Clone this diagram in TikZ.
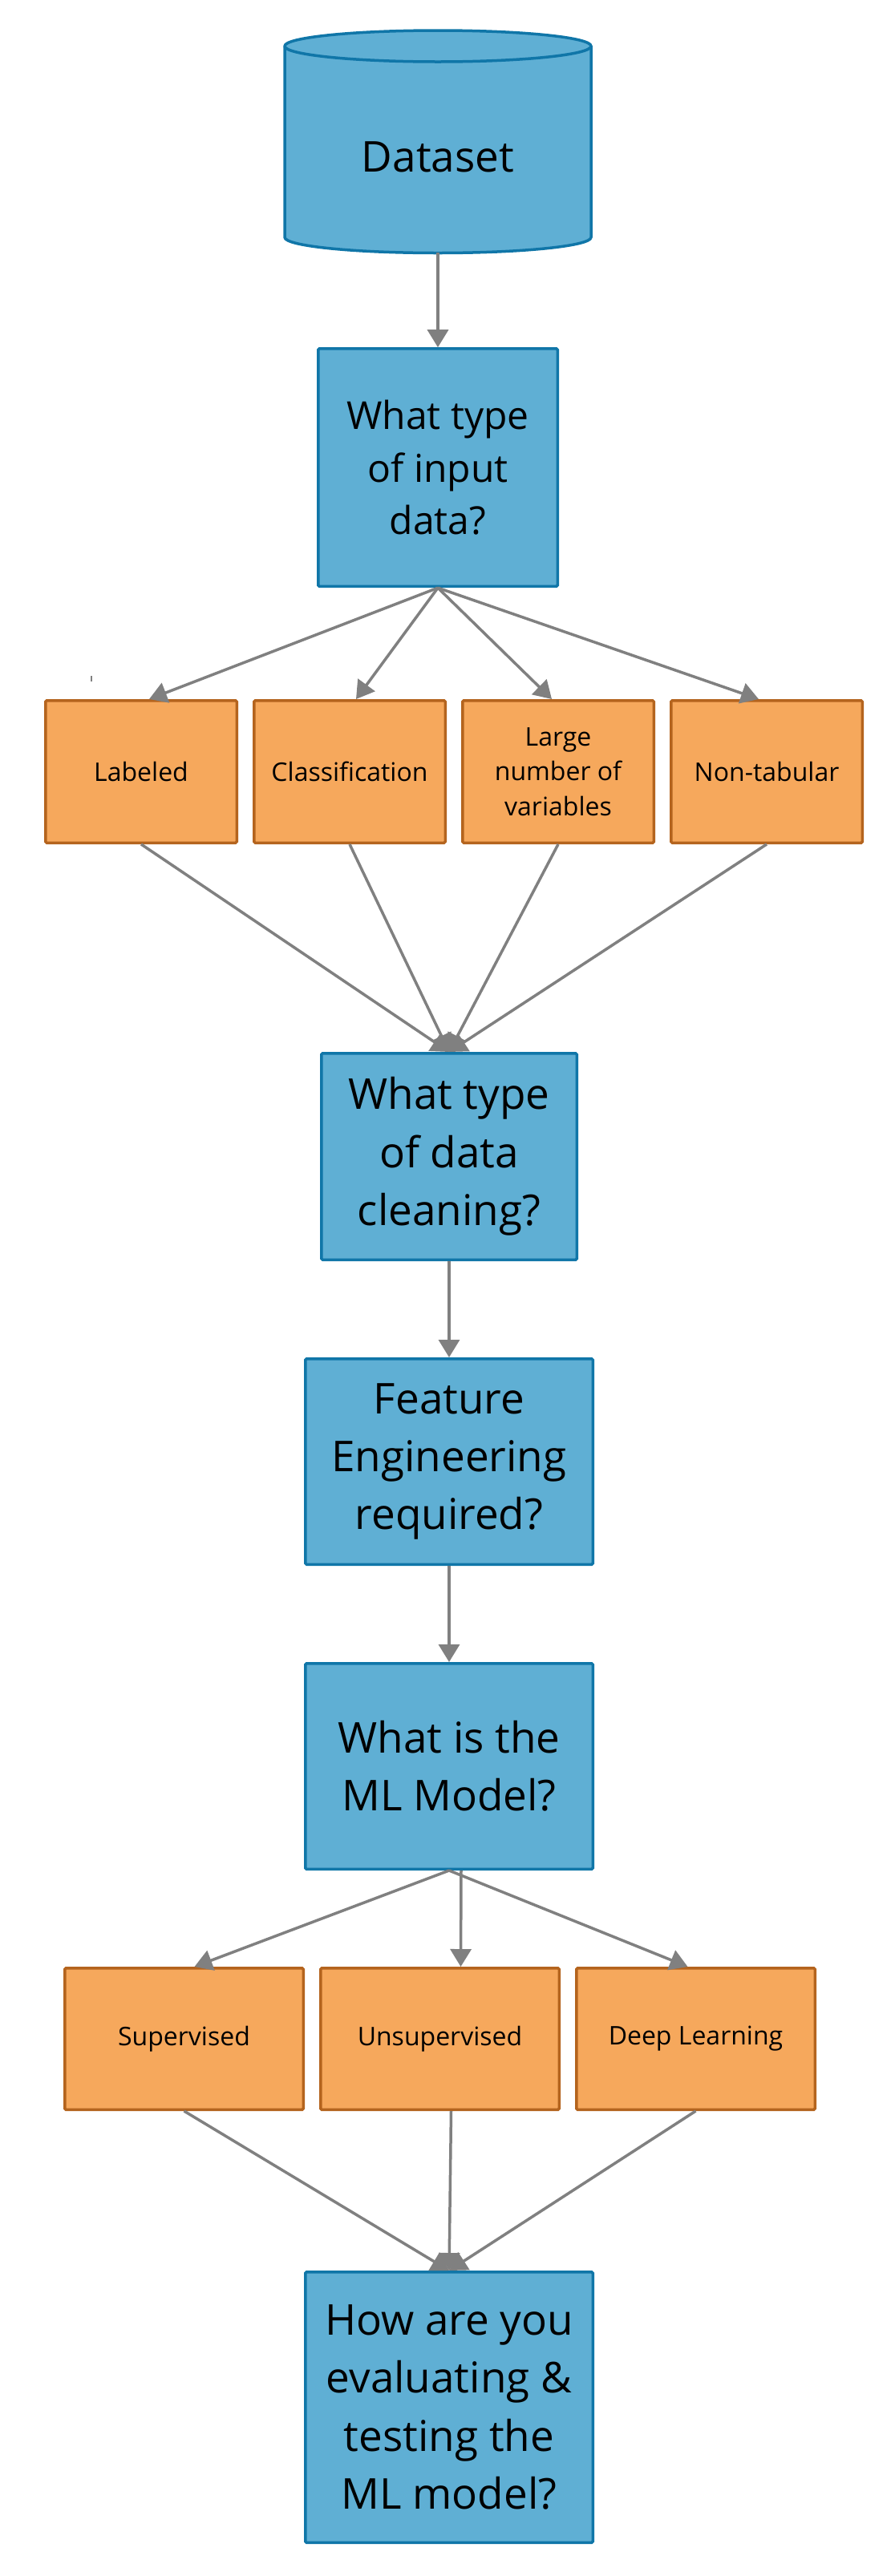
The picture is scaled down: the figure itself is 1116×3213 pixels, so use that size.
\documentclass[tikz,border=0pt]{standalone}
\usepackage{fontspec}
\setmainfont{Open Sans}
\usepackage{tikz}
\usetikzlibrary{arrows.meta,positioning}

\definecolor{qfill}{RGB}{95,175,212}
\definecolor{qline}{RGB}{16,118,168}
\definecolor{cfill}{RGB}{246,168,92}
\definecolor{cline}{RGB}{180,100,30}
\definecolor{flowgray}{RGB}{128,128,128}

\tikzset{
  question/.style={rectangle, draw=qline, fill=qfill, line width=3.5pt, rounded corners=1.5pt,
    align=center, inner sep=0pt, font=\fontsize{53}{72.3}\selectfont},
  choice/.style={rectangle, draw=cline, fill=cfill, line width=3.5pt, rounded corners=1.5pt,
    align=center, inner sep=0pt, font=\fontsize{32}{43.5}\selectfont},
  flow/.style={color=flowgray, line width=3.5pt, -{Triangle[length=22pt,width=26pt]}}
}

\begin{document}
\begin{tikzpicture}[x=1pt,y=1pt,node distance=120pt]
	\useasboundingbox (0,0) rectangle (1116,-3213);
	% dataset cylinder
	\filldraw[draw=qline, fill=qfill, line width=3.5pt]
		(355,-57.5) -- (355,-296) arc[start angle=180, end angle=360, x radius=191, y radius=19.5]
		-- (737,-57.5) arc[start angle=0, end angle=180, x radius=191, y radius=19.5] -- cycle;
	\draw[draw=qline, line width=3.5pt] (355,-57.5) arc[start angle=180, end angle=360, x radius=191, y radius=19.5];
	\node[inner sep=0pt, minimum width=382pt, minimum height=238pt, font=\fontsize{53}{72.3}\selectfont] (data) at (546,-196) {Dataset};

	\node[question, font=\fontsize{48}{65.5}\selectfont, minimum width=298.5pt, minimum height=296.5pt] [below=118pt of data] (qinput) {What type\\of input\\data?};

	\node[choice, minimum width=238.5pt, minimum height=177.5pt] (labeled) at (176,-962.5) {Labeled};
	\node[choice, minimum width=238.5pt, minimum height=177.5pt] [right=18pt of labeled] (classif) {Classification};
	\node[choice, minimum width=238.5pt, minimum height=177.5pt] [right=18pt of classif] (largevars) {Large\\number of\\variables};
	\node[choice, minimum width=238.5pt, minimum height=177.5pt] [right=18pt of largevars] (nontab) {Non-tabular};
	\fill[flowgray] (113,-843) rectangle (115,-850);

	\node[question, minimum width=318.5pt, minimum height=257.5pt] (qclean) at (560,-1442.5) {What type\\of data\\cleaning?};
	\node[question, minimum width=358.5pt, minimum height=256.5pt] [below=of qclean] (qfeat) {Feature\\Engineering\\required?};
	\node[question, minimum width=358.5pt, minimum height=256.5pt] [below=of qfeat] (qmodel) {What is the\\ML Model?};

	\node[choice, minimum width=297.5pt, minimum height=176.5pt] (superv) at (229.5,-2543) {Supervised};
	\node[choice, minimum width=297.5pt, minimum height=176.5pt] [right=18pt of superv] (unsuperv) {Unsupervised};
	\node[choice, minimum width=297.5pt, minimum height=176.5pt] [right=18pt of unsuperv] (deeplearn) {Deep Learning};

	\node[question, minimum width=358.5pt, minimum height=337.5pt] (qeval) at (560,-3002.5) {How are you\\evaluating \&\\testing the\\ML model?};

	\path[flow]
		(data) edge (qinput)
		(qinput.south) edge ([xshift=10pt]labeled.north)
		(qinput.south) edge ([xshift=8pt]classif.north)
		(qinput.south) edge ([xshift=-8pt]largevars.north)
		(qinput.south) edge ([xshift=-10pt]nontab.north)
		(labeled.south) edge (qclean.north)
		(classif.south) edge (qclean.north)
		(largevars.south) edge (qclean.north)
		(nontab.south) edge (qclean.north)
		(qclean) edge (qfeat)
		(qfeat) edge (qmodel)
		(qmodel.south) edge ([xshift=13pt]superv.north)
		([xshift=15pt]qmodel.south) edge ([xshift=26pt]unsuperv.north)
		(qmodel.south) edge ([xshift=-10pt]deeplearn.north)
		(superv.south) edge (qeval.north)
		([xshift=14pt]unsuperv.south) edge (qeval.north)
		(deeplearn.south) edge (qeval.north);
\end{tikzpicture}
\end{document}
